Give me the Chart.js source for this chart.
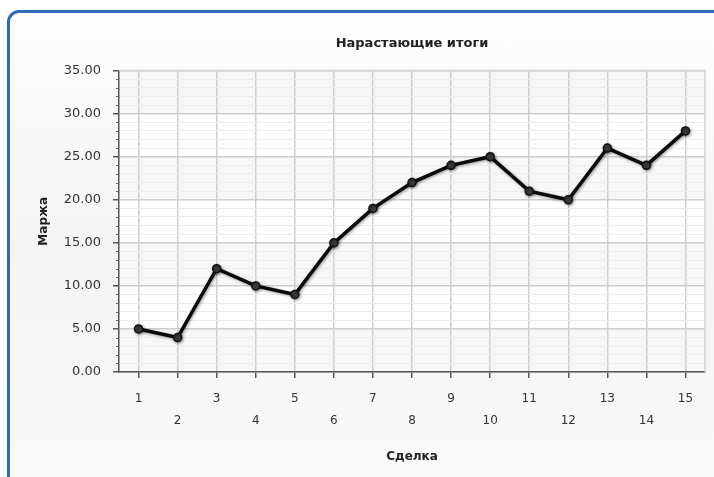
<!DOCTYPE html>
<html>
<head>
<meta charset="utf-8">
<script src="https://cdn.jsdelivr.net/npm/chart.js@4"></script>
<style>
  html, body { margin: 0; padding: 0; background: #fff; }
  .wrap { position: relative; width: 714px; height: 477px; overflow: hidden; }
  .panel {
    position: absolute; left: 7px; top: 10px; width: 760px; height: 520px;
    border: 3px solid #2e6db4; border-radius: 12px; box-sizing: border-box;
    background: linear-gradient(to bottom, #fefefe 0%, #f4f4f4 45%, #f6f6f6 70%, #fdfdfd 100%);
  }
  canvas { position: absolute; left: 0; top: 0; }
</style>
</head>
<body>
<div class="wrap">
  <div class="panel"></div>
  <canvas id="chart" width="714" height="477"></canvas>
</div>
<script>
const deals = ["1", "2", "3", "4", "5", "6", "7", "8", "9", "10", "11", "12", "13", "14", "15"];
const margin = [5, 4, 12, 10, 9, 15, 19, 22, 24, 25, 21, 20, 26, 24, 28];
const yMin = 0, yMax = 35, yMajor = 5;
const bandStarts = [0, 10, 20, 30];

const font = "'DejaVu Sans', Verdana, sans-serif";

// alternating grey bands + frame + minor ticks
const plotDecor = {
  id: "plotDecor",
  beforeDraw(chart) {
    const { ctx, chartArea: a, scales: { y } } = chart;
    ctx.save();
    ctx.fillStyle = "#ffffff";
    ctx.fillRect(a.left, a.top, a.right - a.left, a.bottom - a.top);
    ctx.fillStyle = "#f7f7f7";
    bandStarts.forEach(v => {
      const y0 = y.getPixelForValue(v), y1 = y.getPixelForValue(v + yMajor);
      ctx.fillRect(a.left, y1, a.right - a.left, y0 - y1);
    });
    ctx.restore();
  },
  beforeDatasetsDraw(chart) {
    const { ctx, chartArea: a, scales: { y } } = chart;
    ctx.save();
    ctx.strokeStyle = "#d4d4d4";
    ctx.lineWidth = 1.5;
    ctx.beginPath();
    ctx.moveTo(a.left, a.top); ctx.lineTo(a.right, a.top); ctx.lineTo(a.right, a.bottom);
    ctx.stroke();
    ctx.strokeStyle = "#666";
    ctx.lineWidth = 1;
    y.ticks.forEach(t => {
      if (t.value % yMajor === 0) return;
      const py = Math.round(y.getPixelForValue(t.value)) + 0.5;
      ctx.beginPath();
      ctx.moveTo(a.left - 3, py); ctx.lineTo(a.left, py);
      ctx.stroke();
    });
    ctx.restore();
  },
  beforeDatasetDraw(chart) {
    const ctx = chart.ctx;
    ctx.save();
    ctx.shadowColor = "rgba(0,0,0,0.4)";
    ctx.shadowBlur = 3;
    ctx.shadowOffsetX = 1;
    ctx.shadowOffsetY = 1;
  },
  afterDatasetDraw(chart) {
    chart.ctx.restore();
  }
};

new Chart(document.getElementById("chart"), {
  type: "line",
  data: {
    labels: deals,
    datasets: [{
      label: "Маржа",
      data: margin,
      borderColor: "#0a0a0a",
      borderWidth: 3.5,
      tension: 0,
      pointRadius: 4,
      pointBackgroundColor: "#3a3a3a",
      pointBorderColor: "#111",
      pointBorderWidth: 1.5
    }]
  },
  options: {
    responsive: false,
    animation: false,
    layout: { padding: { left: 10, right: 9, top: 22, bottom: 8 } },
    plugins: {
      legend: { display: false },
      tooltip: { enabled: false },
      title: {
        display: true,
        fullSize: false,
        text: "Нарастающие итоги",
        color: "#222",
        font: { family: font, size: 13, weight: "bold" },
        padding: { top: 14, bottom: 19 }
      }
    },
    scales: {
      x: {
        offset: true,
        afterFit(s) { s.height = 97; },
        grid: { color: "#cfcfcf", lineWidth: 1.5, tickColor: "#555", tickLength: 6, offset: false },
        border: { color: "#555", width: 1.5 },
        ticks: {
          autoSkip: false, maxRotation: 0, color: "#333", padding: 9,
          font: { family: font, size: 12, lineHeight: 1.9 },
          callback(v, i) { return i % 2 === 1 ? ["", deals[i]] : deals[i]; }
        },
        title: {
          display: true, text: "Сделка", color: "#222",
          font: { family: font, size: 12, weight: "bold" },
          padding: { top: 0, bottom: 5 }
        }
      },
      y: {
        min: yMin, max: yMax,
        afterFit(s) { s.width = 109; },
        grid: {
          color: c => (c.tick && c.tick.value % yMajor === 0) ? "#cdcdcd" : "#ececec",
          lineWidth: c => (c.tick && c.tick.value % yMajor === 0) ? 1.5 : 1,
          tickColor: c => (c.tick && c.tick.value % yMajor === 0) ? "#555" : "rgba(0,0,0,0)",
          tickLength: 6
        },
        border: { color: "#555", width: 1.5 },
        ticks: {
          stepSize: 1, autoSkip: false, color: "#333", padding: 12,
          font: { family: font, size: 13 },
          callback(v) { return v % yMajor === 0 ? v.toFixed(2) : ""; }
        },
        title: {
          display: true, text: "Маржа", color: "#222",
          font: { family: font, size: 12, weight: "bold" },
          padding: { top: 27, bottom: 0 }
        }
      }
    }
  },
  plugins: [plotDecor]
});
</script>
</body>
</html>
